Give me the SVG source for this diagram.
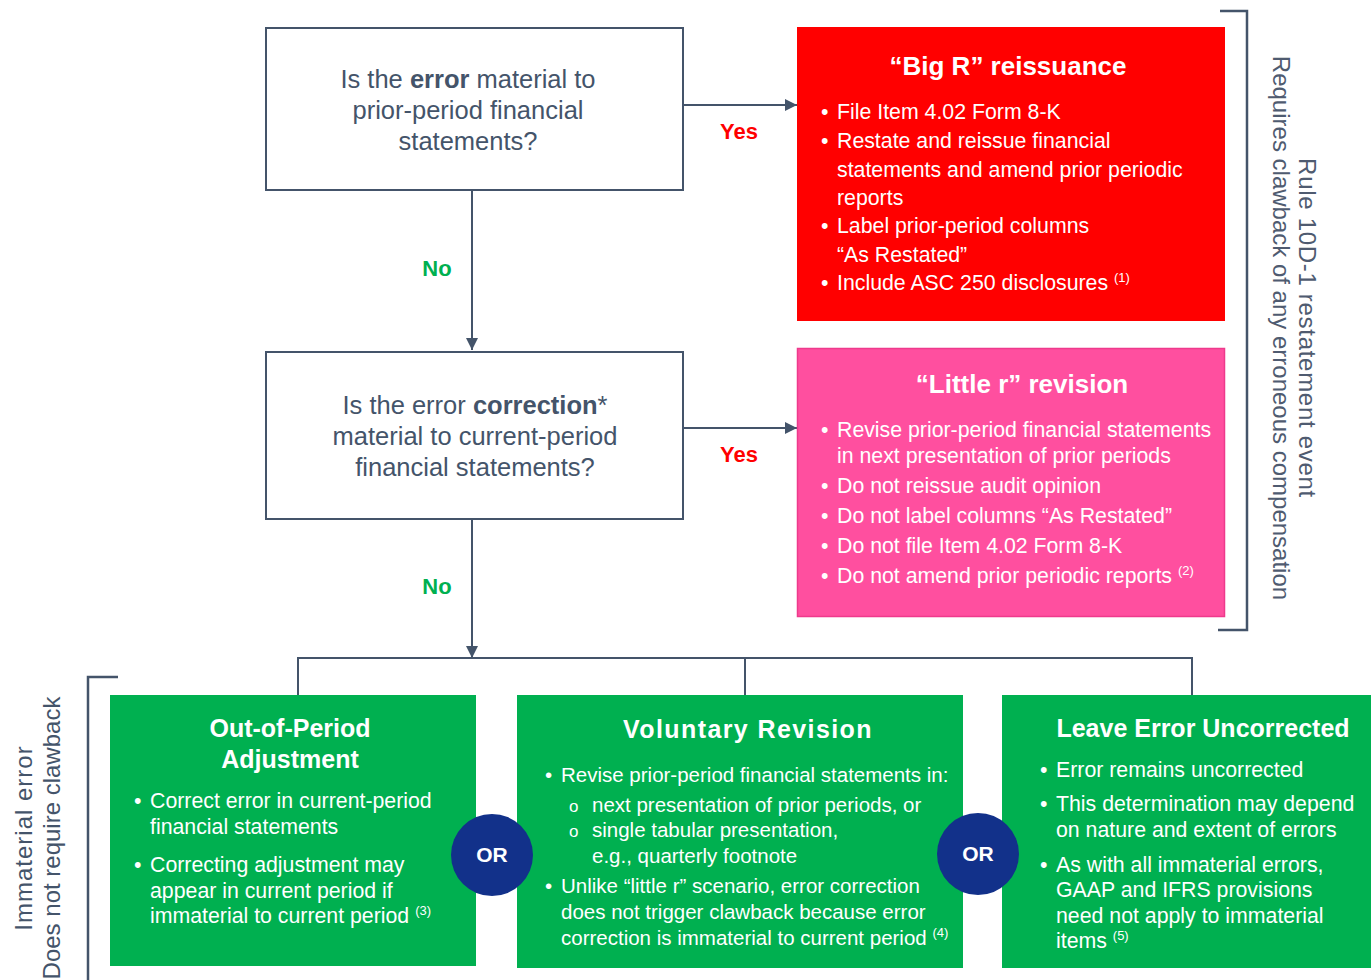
<svg xmlns="http://www.w3.org/2000/svg" width="1371" height="980" viewBox="0 0 1371 980">
<style>
text{font-family:"Liberation Sans",Arial,sans-serif;}
.q{font-size:25.5px;fill:#44546A;text-anchor:middle;}
.qb{font-weight:bold;}
.qbox{fill:#FFFFFF;stroke:#44546A;stroke-width:2;}
.conn{stroke:#44546A;stroke-width:2;fill:none;}
.brk{stroke:#44546A;stroke-width:2.5;fill:none;}
.yes{font-size:22px;font-weight:bold;fill:#FF0000;text-anchor:middle;}
.no{font-size:22px;font-weight:bold;fill:#00B050;text-anchor:middle;}
.ttl{font-size:26px;font-weight:bold;fill:#FFFFFF;text-anchor:middle;}
.gttl{font-size:25px;font-weight:bold;fill:#FFFFFF;text-anchor:middle;}
.t{font-size:21.3px;fill:#FFFFFF;}
.t2{font-size:20.5px;fill:#FFFFFF;}
.sup{font-size:13px;}
.green{fill:#00B050;}
.or{fill:#12318A;}
.ortx{font-size:21px;font-weight:bold;fill:#FFFFFF;text-anchor:middle;}
.side{font-size:24px;fill:#4F5B70;text-anchor:middle;}
.sidel{font-size:24px;fill:#44546A;text-anchor:middle;}
</style>
<defs>
<marker id="arr" viewBox="0 0 12 12" refX="12" refY="6" markerWidth="12" markerHeight="12" markerUnits="userSpaceOnUse" orient="auto">
<path d="M0,0 L12,6 L0,12 Z" fill="#44546A"/>
</marker>
</defs>
<rect width="1371" height="980" fill="#FFFFFF"/>

<g id="connectors">
<line class="conn" x1="683" y1="105" x2="797" y2="105" marker-end="url(#arr)"/>
<line class="conn" x1="683" y1="428" x2="797" y2="428" marker-end="url(#arr)"/>
<line class="conn" x1="472" y1="190" x2="472" y2="350" marker-end="url(#arr)"/>
<line class="conn" x1="472" y1="519" x2="472" y2="658" marker-end="url(#arr)"/>
<path class="conn" d="M298,695 V658 H1192 V695 M745,658 V695"/>
<text class="yes" x="739" y="139">Yes</text>
<text class="yes" x="739" y="462">Yes</text>
<text class="no" x="437" y="276">No</text>
<text class="no" x="437" y="594">No</text>
</g>

<g id="q1">
<rect class="qbox" x="266" y="28" width="417" height="162"/>
<text class="q" x="468" y="88">Is the <tspan class="qb">error</tspan> material to</text>
<text class="q" x="468" y="119">prior-period financial</text>
<text class="q" x="468" y="150">statements?</text>
</g>

<g id="q2">
<rect class="qbox" x="266" y="352" width="417" height="167"/>
<text class="q" x="475" y="414">Is the error <tspan class="qb">correction</tspan>*</text>
<text class="q" x="475" y="445">material to current-period</text>
<text class="q" x="475" y="476">financial statements?</text>
</g>

<g id="bigR">
<rect x="797" y="27" width="428" height="294" fill="#FF0000"/>
<text class="ttl" x="1008" y="75">“Big R” reissuance</text>
<text class="t" y="119"><tspan x="821">•</tspan><tspan x="837">File Item 4.02 Form 8-K</tspan></text>
<text class="t" y="148"><tspan x="821">•</tspan><tspan x="837">Restate and reissue financial</tspan></text>
<text class="t" x="837" y="177">statements and amend prior periodic</text>
<text class="t" x="837" y="205">reports</text>
<text class="t" y="233"><tspan x="821">•</tspan><tspan x="837">Label prior-period columns</tspan></text>
<text class="t" x="837" y="262">“As Restated”</text>
<text class="t" y="290"><tspan x="821">•</tspan><tspan x="837">Include ASC 250 disclosures </tspan><tspan class="sup" dy="-8">(1)</tspan></text>
</g>

<g id="littleR">
<rect x="797.5" y="348.5" width="427" height="268" fill="#FF4F9F" stroke="#EE3A8C" stroke-width="1.5"/>
<text class="ttl" x="1022" y="393">“Little r” revision</text>
<text class="t" y="437"><tspan x="821">•</tspan><tspan x="837">Revise prior-period financial statements</tspan></text>
<text class="t" x="837" y="463">in next presentation of prior periods</text>
<text class="t" y="493"><tspan x="821">•</tspan><tspan x="837">Do not reissue audit opinion</tspan></text>
<text class="t" y="523"><tspan x="821">•</tspan><tspan x="837">Do not label columns “As Restated”</tspan></text>
<text class="t" y="553"><tspan x="821">•</tspan><tspan x="837">Do not file Item 4.02 Form 8-K</tspan></text>
<text class="t" y="583"><tspan x="821">•</tspan><tspan x="837">Do not amend prior periodic reports </tspan><tspan class="sup" dy="-8">(2)</tspan></text>
</g>

<g id="bracket-right">
<path class="brk" d="M1220,11 H1247 V630 H1218"/>
<text class="side" transform="translate(1299,328) rotate(90)" letter-spacing="0.7">Rule 10D-1 restatement event</text>
<text class="side" transform="translate(1273,328) rotate(90)">Requires clawback of any erroneous compensation</text>
</g>

<g id="bracket-left">
<path class="brk" d="M118,677 H88 V980"/>
<text class="sidel" transform="translate(32,838) rotate(-90)" letter-spacing="1">Immaterial error</text>
<text class="sidel" transform="translate(60,838) rotate(-90)">Does not require clawback</text>
</g>

<g id="oop">
<rect class="green" x="110" y="695" width="366" height="271"/>
<text class="gttl" x="290" y="737">Out-of-Period</text>
<text class="gttl" x="290" y="768">Adjustment</text>
<text class="t" y="808"><tspan x="134">•</tspan><tspan x="150">Correct error in current-period</tspan></text>
<text class="t" x="150" y="834">financial statements</text>
<text class="t" y="872"><tspan x="134">•</tspan><tspan x="150">Correcting adjustment may</tspan></text>
<text class="t" x="150" y="898">appear in current period if</text>
<text class="t" y="923"><tspan x="150">immaterial to current period </tspan><tspan class="sup" dy="-8">(3)</tspan></text>
</g>

<g id="voluntary">
<rect class="green" x="517" y="695" width="446" height="273"/>
<text class="gttl" x="748" y="738" letter-spacing="1.4">Voluntary Revision</text>
<text class="t2" y="782"><tspan x="545">•</tspan><tspan x="561">Revise prior-period financial statements in:</tspan></text>
<text class="t2" y="812"><tspan x="569" font-size="17">o</tspan><tspan x="592">next presentation of prior periods, or</tspan></text>
<text class="t2" y="837"><tspan x="569" font-size="17">o</tspan><tspan x="592">single tabular presentation,</tspan></text>
<text class="t2" x="592" y="863">e.g., quarterly footnote</text>
<text class="t2" y="893"><tspan x="545">•</tspan><tspan x="561">Unlike “little r” scenario, error correction</tspan></text>
<text class="t2" x="561" y="919">does not trigger clawback because error</text>
<text class="t2" y="945"><tspan x="561">correction is immaterial to current period </tspan><tspan class="sup" dy="-8">(4)</tspan></text>
</g>

<g id="leave">
<rect class="green" x="1002" y="695" width="380" height="273"/>
<text class="gttl" x="1203" y="737">Leave Error Uncorrected</text>
<text class="t" y="777"><tspan x="1040">•</tspan><tspan x="1056">Error remains uncorrected</tspan></text>
<text class="t" y="811"><tspan x="1040">•</tspan><tspan x="1056">This determination may depend</tspan></text>
<text class="t" x="1056" y="837">on nature and extent of errors</text>
<text class="t" y="872"><tspan x="1040">•</tspan><tspan x="1056">As with all immaterial errors,</tspan></text>
<text class="t" x="1056" y="897">GAAP and IFRS provisions</text>
<text class="t" x="1056" y="923">need not apply to immaterial</text>
<text class="t" y="948"><tspan x="1056">items </tspan><tspan class="sup" dy="-8">(5)</tspan></text>
</g>

<g id="or1">
<circle class="or" cx="492" cy="855" r="41"/>
<text class="ortx" x="492" y="862">OR</text>
</g>
<g id="or2">
<circle class="or" cx="978" cy="854" r="41"/>
<text class="ortx" x="978" y="861">OR</text>
</g>
</svg>
